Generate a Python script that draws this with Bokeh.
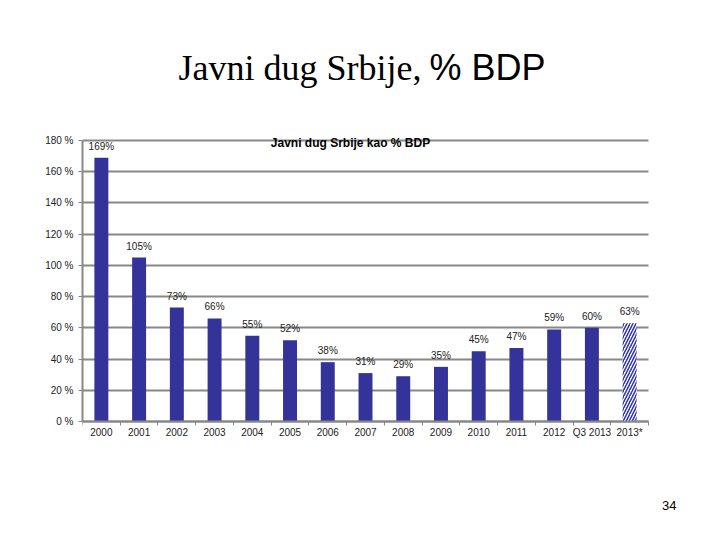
from bokeh.plotting import figure
from bokeh.models import Range1d, FixedTicker, Label, ColumnDataSource
from bokeh.core.properties import value
from bokeh.embed import file_html
from bokeh.resources import INLINE

categories = ["2000", "2001", "2002", "2003", "2004", "2005", "2006", "2007",
              "2008", "2009", "2010", "2011", "2012", "Q3 2013", "2013*"]
debt_pct = [169, 105, 73, 66, 55, 52, 38, 31, 29, 35, 45, 47, 59, 60, 63]
projected = [False] * 14 + [True]
y_ticks = [0, 20, 40, 60, 80, 100, 120, 140, 160, 180]

main_title_serif = "Javni dug Srbije,"
main_title_sans = "% BDP"
chart_title = "Javni dug Srbije kao % BDP"
page_number = "34"

n = len(categories)
centers = [i + 0.5 for i in range(n)]
labels = [f"{v}%" for v in debt_pct]

# the frame spans the slide; axis and grid are bounded to the chart area
p = figure(width=704, height=524, output_backend="svg", toolbar_location=None,
           x_range=Range1d(0, 16.484), y_range=Range1d(-65.98, 250.46),
           min_border_left=82, min_border_right=0, min_border_top=30,
           min_border_bottom=0, background_fill_color="white",
           border_fill_color="white", outline_line_color=None)

solid = [i for i in range(n) if not projected[i]]
hatched = [i for i in range(n) if projected[i]]

src_solid = ColumnDataSource(dict(x=[centers[i] for i in solid], top=[debt_pct[i] for i in solid]))
src_hatch = ColumnDataSource(dict(x=[centers[i] for i in hatched], top=[debt_pct[i] for i in hatched]))

p.vbar(x="x", top="top", width=0.37, source=src_solid, fill_color="#333399", line_color=None)
p.vbar(x="x", top="top", width=0.37, source=src_hatch, fill_color="white", line_color=None,
       hatch_pattern="right_diagonal_line", hatch_color="#333399", hatch_scale=6, hatch_weight=1.5)

src_lbl = ColumnDataSource(dict(x=centers, y=debt_pct, t=labels))
p.text(x="x", y="y", text="t", source=src_lbl, text_align="center", text_baseline="bottom",
       y_offset=-6, text_font=value("Liberation Sans"), text_font_size="10px", text_color="#222222")

# axes
p.xaxis.fixed_location = 0
p.xaxis.bounds = (0, n)
p.xaxis.ticker = FixedTicker(ticks=centers, minor_ticks=list(range(n + 1)))
p.xaxis.major_label_overrides = {c: cat for c, cat in zip(centers, categories)}
p.xaxis.major_tick_out = 0
p.xaxis.major_tick_in = 0
p.xaxis.minor_tick_out = 4
p.xaxis.minor_tick_in = 0
p.xaxis.minor_tick_line_color = "#888888"
p.xaxis.axis_line_color = "#888888"
p.xaxis.axis_line_width = 2
p.xaxis.major_label_standoff = 2
p.xaxis.major_label_text_font = "Liberation Sans"
p.xaxis.major_label_text_font_size = "10px"
p.xaxis.major_label_text_color = "#222222"

p.yaxis.ticker = FixedTicker(ticks=y_ticks)
p.yaxis.bounds = (0, 180)
p.yaxis.major_label_overrides = {t: f"{t} %" for t in y_ticks}
p.yaxis.major_tick_out = 4
p.yaxis.major_tick_in = 0
p.yaxis.minor_tick_out = 0
p.yaxis.minor_tick_in = 0
p.yaxis.major_tick_line_color = "#888888"
p.yaxis.axis_line_color = "#888888"
p.yaxis.axis_line_width = 2
p.yaxis.major_label_standoff = 5
p.yaxis.major_label_text_font = "Liberation Sans"
p.yaxis.major_label_text_font_size = "10px"
p.yaxis.major_label_text_color = "#222222"

p.xgrid.grid_line_color = None
p.ygrid.ticker = FixedTicker(ticks=y_ticks)
p.ygrid.cross_bounds = (0, n)
p.ygrid.grid_line_color = "#888888"
p.ygrid.grid_line_width = 2

# titles (screen offsets from the frame's bottom-left corner)
p.add_layout(Label(x=96, y=457, x_units="screen", y_units="screen", text=main_title_serif,
                   text_font="Liberation Serif", text_font_size="36px",
                   text_baseline="alphabetic", text_align="left", text_color="black"))
p.add_layout(Label(x=347, y=457, x_units="screen", y_units="screen", text=main_title_sans,
                   text_font="Liberation Sans", text_font_size="36px",
                   text_baseline="alphabetic", text_align="left", text_color="black"))
p.add_layout(Label(x=268, y=382, x_units="screen", y_units="screen", text=chart_title,
                   text_font="Liberation Sans", text_font_size="12px", text_font_style="bold",
                   text_baseline="alphabetic", text_align="center", text_color="black"))
p.add_layout(Label(x=594, y=19, x_units="screen", y_units="screen", text=page_number,
                   text_font="Liberation Sans", text_font_size="13px",
                   text_baseline="alphabetic", text_align="right", text_color="black"))

open("out.html", "w").write(file_html(p, INLINE))
